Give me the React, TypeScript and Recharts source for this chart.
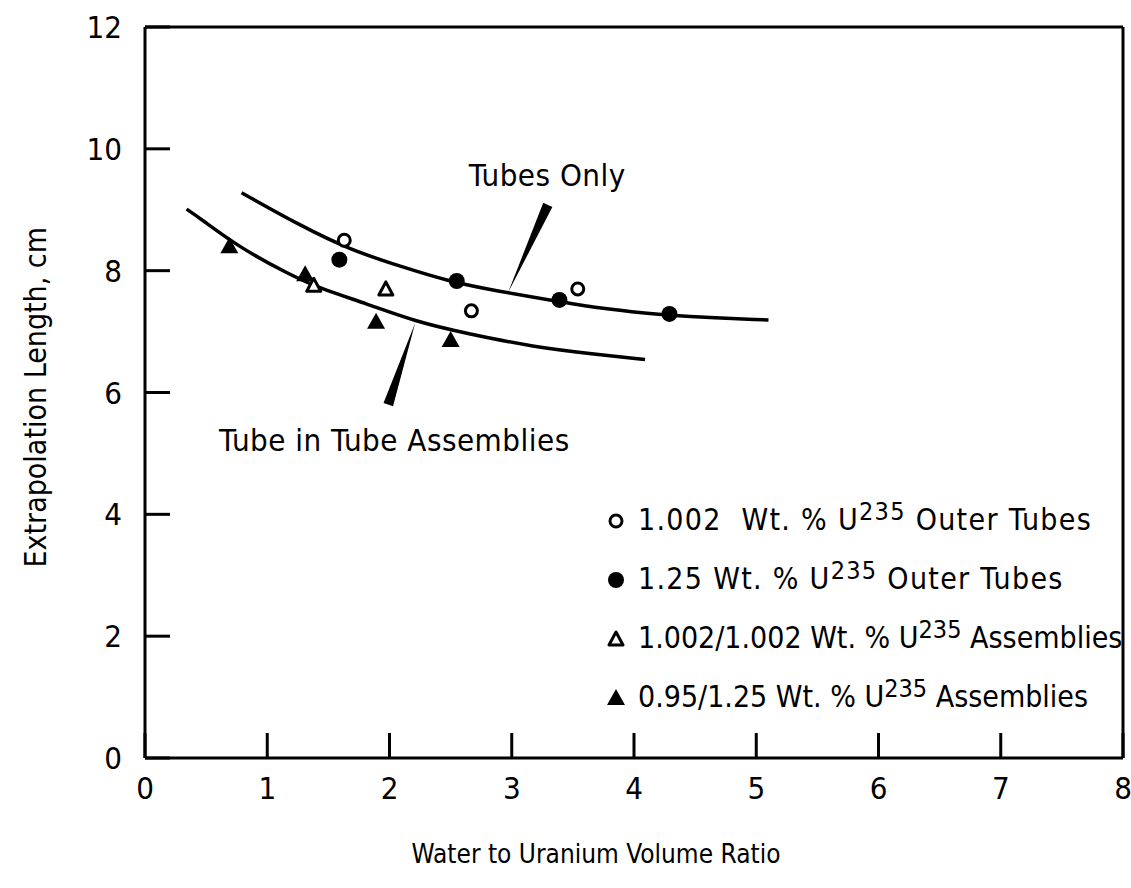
import {
  ComposedChart,
  Line,
  Scatter,
  XAxis,
  YAxis,
  ReferenceLine,
  ReferenceDot,
  Legend,
} from "recharts";

const FONT = "'Liberation Sans Narrow', 'DejaVu Sans Condensed', 'Arial Narrow', sans-serif";

// measured points
const openCircleX = [1.63, 2.67, 3.54];
const openCircleY = [8.5, 7.34, 7.7];
const filledCircleX = [1.59, 2.55, 3.39, 4.29];
const filledCircleY = [8.18, 7.83, 7.52, 7.29];
const openTriangleX = [1.38, 1.97];
const openTriangleY = [7.76, 7.7];
const filledTriangleX = [0.69, 1.31, 1.89, 2.5];
const filledTriangleY = [8.4, 7.94, 7.16, 6.86];

// hand drawn curves
const tubesOnlyX = [0.79, 1.27, 1.68, 2.09, 2.49, 2.9, 3.31, 3.72, 4.1, 4.39, 5.1];
const tubesOnlyY = [9.28, 8.74, 8.34, 8.07, 7.82, 7.66, 7.52, 7.38, 7.3, 7.25, 7.19];
const assemblyX = [0.34, 0.45, 0.78, 1.19, 1.43, 1.81, 2.22, 2.63, 3.17, 3.72, 4.09];
const assemblyY = [9.01, 8.86, 8.37, 7.93, 7.71, 7.46, 7.16, 6.97, 6.75, 6.62, 6.54];

const xTicks = [0, 1, 2, 3, 4, 5, 6, 7, 8];
const yTicks = [0, 2, 4, 6, 8, 10, 12];

const legendLabels = [
  ["1.002  Wt. % U", "Outer Tubes"],
  ["1.25 Wt. % U", "Outer Tubes"],
  ["1.002/1.002 Wt. % U", "Assemblies"],
  ["0.95/1.25 Wt. % U", "Assemblies"],
];

const toPoints = (xs: number[], ys: number[]) => xs.map((x, i) => ({ x, y: ys[i] }));

const OpenCircle = (p: any) => (
  <circle cx={p.cx} cy={p.cy} r={6} fill="#fff" stroke="#000" strokeWidth={3} />
);
const FilledCircle = (p: any) => <circle cx={p.cx} cy={p.cy} r={8} fill="#000" />;
const OpenTriangle = (p: any) => (
  <polygon
    points={`${p.cx},${p.cy - 7} ${p.cx - 7},${p.cy + 6} ${p.cx + 7},${p.cy + 6}`}
    fill="#fff"
    stroke="#000"
    strokeWidth={3}
    strokeLinejoin="round"
  />
);
const FilledTriangle = (p: any) => (
  <polygon
    points={`${p.cx},${p.cy - 9} ${p.cx - 9},${p.cy + 7} ${p.cx + 9},${p.cy + 7}`}
    fill="#000"
  />
);

const legendIcons = [OpenCircle, FilledCircle, OpenTriangle, FilledTriangle];

// tapered pointer, thick end at (x1,y1) when thickStart
const wedge = (thickStart: boolean) => (p: any) => {
  const { x1, y1, x2, y2 } = p;
  const dx = x2 - x1;
  const dy = y2 - y1;
  const len = Math.sqrt(dx * dx + dy * dy) || 1;
  const nx = (-dy / len) * 5;
  const ny = (dx / len) * 5;
  const pts = thickStart
    ? `${x1 + nx},${y1 + ny} ${x1 - nx},${y1 - ny} ${x2},${y2}`
    : `${x1},${y1} ${x2 + nx},${y2 + ny} ${x2 - nx},${y2 - ny}`;
  return <polygon points={pts} fill="#000" />;
};

const textLabel = (text: string) => (p: any) => {
  const vb = p.viewBox || {};
  return (
    <text
      x={vb.x + (vb.width || 0) / 2}
      y={vb.y + (vb.height || 0) / 2}
      textAnchor="middle"
      dominantBaseline="central"
      fontFamily={FONT}
      fontSize={31}
      letterSpacing={0.5}
      fill="#000"
    >
      {text}
    </text>
  );
};

const renderLegend = () => (
  <div style={{ fontFamily: FONT, fontSize: 30, color: "#000", lineHeight: "59px" }}>
    {legendLabels.map((l, i) => {
      const Icon = legendIcons[i];
      return (
        <div
          key={i}
          style={{
            display: "flex",
            alignItems: "center",
            whiteSpace: "pre",
            letterSpacing: i < 2 ? "1.3px" : "0px",
          }}
        >
          <svg width={36} height={24} style={{ marginRight: 4 }}>
            <Icon cx={18} cy={13} />
          </svg>
          <span>
            {l[0]}
            <sup style={{ fontSize: 25, verticalAlign: "10px", lineHeight: 0 }}>235</sup> {l[1]}
          </span>
        </div>
      );
    })}
  </div>
);

export default function App() {
  return (
    <div style={{ position: "absolute", left: 0, top: 0, background: "#fff" }}>
      <ComposedChart
        width={1131}
        height={888}
        margin={{ top: 27, right: 8, bottom: 100, left: 85 }}
      >
        <XAxis
          type="number"
          dataKey="x"
          domain={[0, 8]}
          ticks={xTicks}
          height={30}
          stroke="#000"
          strokeWidth={3}
          tickSize={-25}
          tickMargin={44}
          tick={{ fill: "#000", fontSize: 31, fontFamily: FONT }}
          label={{
            value: "Water to Uranium Volume Ratio",
            position: "insideBottom",
            offset: -75,
            dx: -38,
            fill: "#000",
            fontSize: 26,
            fontFamily: FONT,
          }}
        />
        <YAxis
          type="number"
          dataKey="y"
          domain={[0, 12]}
          ticks={yTicks}
          width={60}
          stroke="#000"
          strokeWidth={3}
          tickSize={-25}
          tickMargin={48}
          tick={{ fill: "#000", fontSize: 31, fontFamily: FONT }}
          label={{
            value: "Extrapolation Length, cm",
            angle: -90,
            position: "insideLeft",
            offset: -50,
            dy: 175,
            fill: "#000",
            fontSize: 30,
            fontFamily: FONT,
          }}
        />
        <ReferenceLine y={12} stroke="#000" strokeWidth={3} />
        <ReferenceLine x={8} stroke="#000" strokeWidth={3} />

        <Line
          data={toPoints(tubesOnlyX, tubesOnlyY)}
          dataKey="y"
          type="basis"
          stroke="#000"
          strokeWidth={3.5}
          dot={false}
          activeDot={false}
          isAnimationActive={false}
          legendType="none"
        />
        <Line
          data={toPoints(assemblyX, assemblyY)}
          dataKey="y"
          type="basis"
          stroke="#000"
          strokeWidth={3.5}
          dot={false}
          activeDot={false}
          isAnimationActive={false}
          legendType="none"
        />

        <ReferenceLine
          segment={[
            { x: 3.295, y: 9.08 },
            { x: 2.97, y: 7.64 },
          ]}
          shape={wedge(true)}
        />
        <ReferenceLine
          segment={[
            { x: 2.21, y: 7.14 },
            { x: 1.99, y: 5.8 },
          ]}
          shape={wedge(false)}
        />
        <ReferenceDot x={3.29} y={9.57} r={0} stroke="none" label={textLabel("Tubes Only")} />
        <ReferenceDot
          x={2.04}
          y={5.22}
          r={0}
          stroke="none"
          label={textLabel("Tube in Tube Assemblies")}
        />

        <Scatter
          data={toPoints(openCircleX, openCircleY)}
          shape={OpenCircle}
          isAnimationActive={false}
        />
        <Scatter
          data={toPoints(filledCircleX, filledCircleY)}
          shape={FilledCircle}
          isAnimationActive={false}
        />
        <Scatter
          data={toPoints(openTriangleX, openTriangleY)}
          shape={OpenTriangle}
          isAnimationActive={false}
        />
        <Scatter
          data={toPoints(filledTriangleX, filledTriangleY)}
          shape={FilledTriangle}
          isAnimationActive={false}
        />

        <Legend
          layout="vertical"
          align="center"
          verticalAlign="middle"
          content={renderLegend}
          wrapperStyle={{ left: 598, top: 490, width: 530 }}
        />
      </ComposedChart>
    </div>
  );
}
